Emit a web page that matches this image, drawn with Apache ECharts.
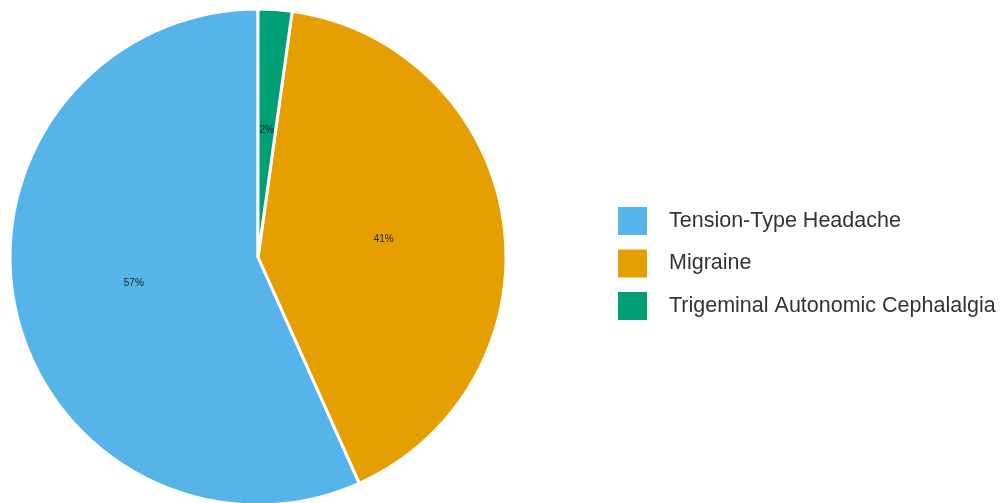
<!DOCTYPE html>
<html>
<head>
<meta charset="UTF-8">
<title></title>
<script src="https://cdn.jsdelivr.net/npm/echarts@6/dist/echarts.min.js"></script>
<style>
  html, body { margin: 0; padding: 0; background: #fff; }
  #main { width: 1003px; height: 503px; }
</style>
</head>
<body>
<div id="main"></div>
<script>
// headache types and their share (%)
var categories = ['Tension-Type Headache', 'Migraine', 'Trigeminal Autonomic Cephalalgia'];
var values = [56.7, 41.1, 2.2];
var colors = ['#56B4E9', '#E69F00', '#009E73'];

var myChart = echarts.init(document.getElementById('main'));

var pieData = [];
for (var i = 0; i < categories.length; i++) {
  pieData.push({ name: categories[i], value: values[i], itemStyle: { color: colors[i] } });
}

var option = {
  animation: false,
  legend: {
    orient: 'vertical',
    left: 613,
    top: 202,
    itemWidth: 29,
    itemHeight: 28,
    itemGap: 14.5,
    icon: 'rect',
    itemStyle: { borderWidth: 0 },
    data: categories,
    textStyle: {
      fontFamily: 'Liberation Sans',
      fontSize: 21.5,
      color: '#333',
      padding: [0, 0, 0, 17]
    }
  },
  series: [{
    type: 'pie',
    center: [258, 257],
    radius: 248,
    startAngle: 90,
    clockwise: false,
    itemStyle: { borderColor: '#fff', borderWidth: 3 },
    label: {
      position: 'inside',
      formatter: function (p) { return Math.round(p.percent) + '%'; },
      fontFamily: 'Liberation Sans',
      fontSize: 10,
      color: '#222'
    },
    labelLine: { show: false },
    data: pieData
  }]
};

myChart.setOption(option);
</script>
</body>
</html>
